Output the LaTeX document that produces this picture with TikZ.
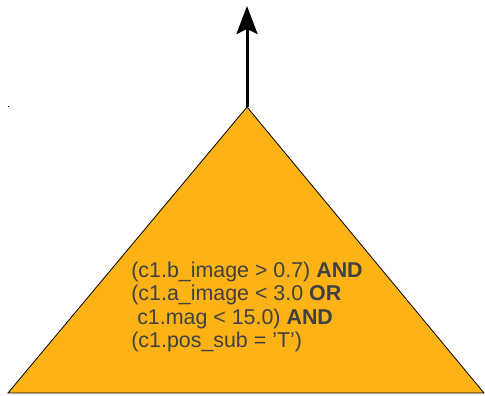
\documentclass[tikz,border=0pt]{standalone}
\usepackage{fontspec}
\setmainfont{Liberation Sans}
\usetikzlibrary{arrows.meta}
\definecolor{treefill}{HTML}{FDB216}
\definecolor{textgray}{HTML}{404040}
\tikzset{
  cond/.style={font=\fontsize{21.4}{23.5}\selectfont, text=textgray, align=left, inner sep=0pt},
  outflow/.style={line width=3pt, -{Stealth[length=28pt, width=21pt, inset=5pt]}},
}
\begin{document}
\begin{tikzpicture}[x=1pt, y=1pt]
  \useasboundingbox (0,0) rectangle (485,396);
  % triangle outline
  \coordinate (apex) at (247,289);
  \coordinate (bl) at (8,3);
  \coordinate (br) at (484,3);
  \coordinate (top) at (247,390);
  \filldraw[fill=treefill, draw=black, line width=0.8pt, line join=miter] (apex) -- (br) -- (bl) -- cycle;
  \draw[outflow] (apex) -- (top);
  % stray marker point
  \fill[black] (7.5,288.5) rectangle (8.5,289.5);
  \node[cond] (expr) at (247,89) {(c1.b\_image > 0.7) \textbf{AND}\\
(c1.a\_image < 3.0 \textbf{OR}\\
\ c1.mag < 15.0) \textbf{AND}\\
(c1.pos\_sub = 'T')};
\end{tikzpicture}
\end{document}
